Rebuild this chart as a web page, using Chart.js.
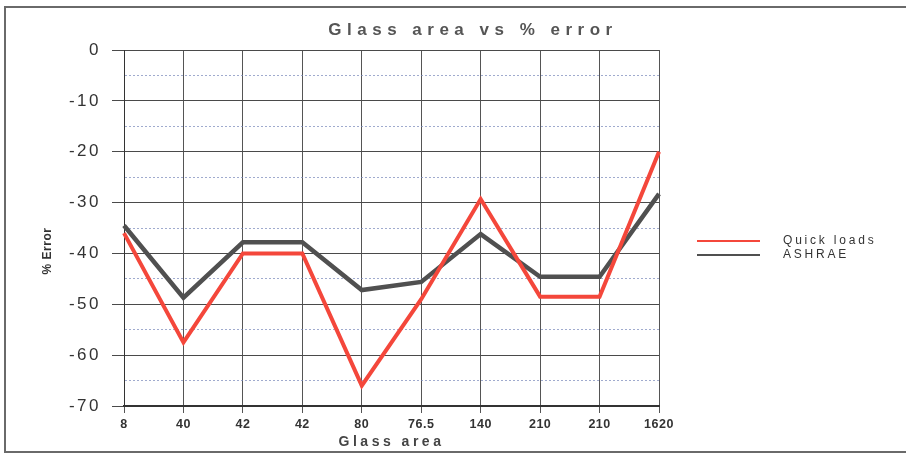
<!DOCTYPE html>
<html>
<head>
<meta charset="utf-8">
<script src="https://cdn.jsdelivr.net/npm/chart.js@4/dist/chart.umd.min.js"></script>
<style>
html,body{margin:0;padding:0;background:#fff;}
#wrap{width:906px;height:457px;}
</style>
</head>
<body>
<div id="wrap"><canvas id="c" width="906" height="457"></canvas></div>
<script>
const chartTitle = 'Glass area vs % error';
const xTitle = 'Glass area';
const yTitle = '% Error';
const categories = ['8', '40', '42', '42', '80', '76.5', '140', '210', '210', '1620'];
const quickLoads = [-36, -57.5, -40, -40, -66, -49, -29.3, -48.5, -48.5, -20];
const ashrae = [-34.5, -48.7, -37.8, -37.8, -47.2, -45.6, -36.2, -44.6, -44.6, -28.3];
const seriesNames = ['Quick loads', 'ASHRAE'];
const seriesColors = ['#f4473b', '#505050'];

const FONT = "'Liberation Sans', Arial, sans-serif";

function withSpacing(scale, labelSp, titleSp) {
  if (scale.__wrapped) return;
  scale.__wrapped = true;
  const dl = scale.drawLabels.bind(scale);
  const dt = scale.drawTitle.bind(scale);
  scale.drawLabels = function (a) {
    const ctx = this.ctx; const old = ctx.letterSpacing;
    ctx.letterSpacing = labelSp; dl(a); ctx.letterSpacing = old;
  };
  scale.drawTitle = function (a) {
    const ctx = this.ctx; const old = ctx.letterSpacing;
    ctx.letterSpacing = titleSp; dt(a); ctx.letterSpacing = old;
  };
}

const decor = {
  id: 'decor',
  beforeDraw(chart) {
    const ctx = chart.ctx;
    ctx.save();
    ctx.fillStyle = '#fff';
    ctx.fillRect(0, 0, chart.width, chart.height);
    ctx.restore();
    withSpacing(chart.scales.x, '0.5px', '3.5px');
    withSpacing(chart.scales.y, '2.5px', '0px');
  },
  afterDraw(chart) {
    const ctx = chart.ctx;
    ctx.save();
    // frame
    ctx.strokeStyle = '#6a6a6a';
    ctx.lineWidth = 2;
    ctx.strokeRect(5, 7, 904, 445);
    // title
    ctx.letterSpacing = '5.5px';
    ctx.fillStyle = '#555';
    ctx.font = "bold 17px " + FONT;
    ctx.textAlign = 'center';
    ctx.textBaseline = 'middle';
    ctx.fillText(chartTitle, 473, 30);
    // y title
    ctx.letterSpacing = '0.5px';
    ctx.save();
    ctx.translate(48, 251);
    ctx.rotate(-Math.PI / 2);
    ctx.font = "bold 12px " + FONT;
    ctx.fillStyle = '#333';
    ctx.fillText(yTitle, 0, 0);
    ctx.restore();
    // legend
    ctx.letterSpacing = '2.8px';
    ctx.font = "12px " + FONT;
    ctx.textAlign = 'left';
    chart.data.datasets.forEach((ds, i) => {
      const y = 241 + i * 14;
      ctx.strokeStyle = ds.borderColor;
      ctx.lineWidth = 2;
      ctx.beginPath();
      ctx.moveTo(697, y);
      ctx.lineTo(760, y);
      ctx.stroke();
      ctx.fillStyle = '#333';
      ctx.fillText(ds.label, 783, y);
    });
    ctx.restore();
  }
};

new Chart(document.getElementById('c'), {
  type: 'line',
  data: {
    labels: categories,
    datasets: [
      { label: seriesNames[0], data: quickLoads, borderColor: seriesColors[0], backgroundColor: seriesColors[0], borderWidth: 4, pointRadius: 0, tension: 0, borderJoinStyle: 'miter' },
      { label: seriesNames[1], data: ashrae, borderColor: seriesColors[1], backgroundColor: seriesColors[1], borderWidth: 4.5, pointRadius: 0, tension: 0, borderJoinStyle: 'miter' }
    ]
  },
  options: {
    responsive: false,
    animation: false,
    events: [],
    layout: { padding: { top: 50, right: 247, left: 0, bottom: 0 } },
    plugins: {
      legend: { display: false },
      title: { display: false },
      tooltip: { enabled: false }
    },
    scales: {
      x: {
        type: 'category',
        offset: false,
        afterFit(s) { s.height = 51; },
        grid: { color: '#555', lineWidth: 1, tickLength: 7, tickColor: '#555' },
        border: { color: '#333', width: 2 },
        ticks: { font: { family: FONT, size: 12.5, weight: 'bold' }, color: '#333', padding: 4, maxRotation: 0, autoSkip: false },
        title: { display: true, text: xTitle, font: { family: FONT, size: 14, weight: 'bold' }, color: '#444', padding: { top: 0, bottom: 6 } }
      },
      y: {
        min: -70,
        max: 0,
        afterFit(s) { s.width = 124; },
        ticks: {
          stepSize: 5,
          font: { family: FONT, size: 17 },
          color: '#333',
          padding: 11,
          callback: (v) => (v % 10 === 0 ? String(v) : '')
        },
        grid: {
          color: (c) => (c.tick && c.tick.value % 10 !== 0 ? 'rgba(120,135,185,0.7)' : '#4a4a4a'),
          tickColor: (c) => (c.tick && c.tick.value % 10 !== 0 ? 'rgba(0,0,0,0)' : '#4a4a4a'),
          lineWidth: 1,
          tickLength: 12
        },
        border: {
          color: '#333',
          width: 1,
          dash: (c) => (c.tick && c.tick.value % 10 !== 0 ? [2, 2] : [])
        }
      }
    }
  },
  plugins: [decor]
});
</script>
</body>
</html>
